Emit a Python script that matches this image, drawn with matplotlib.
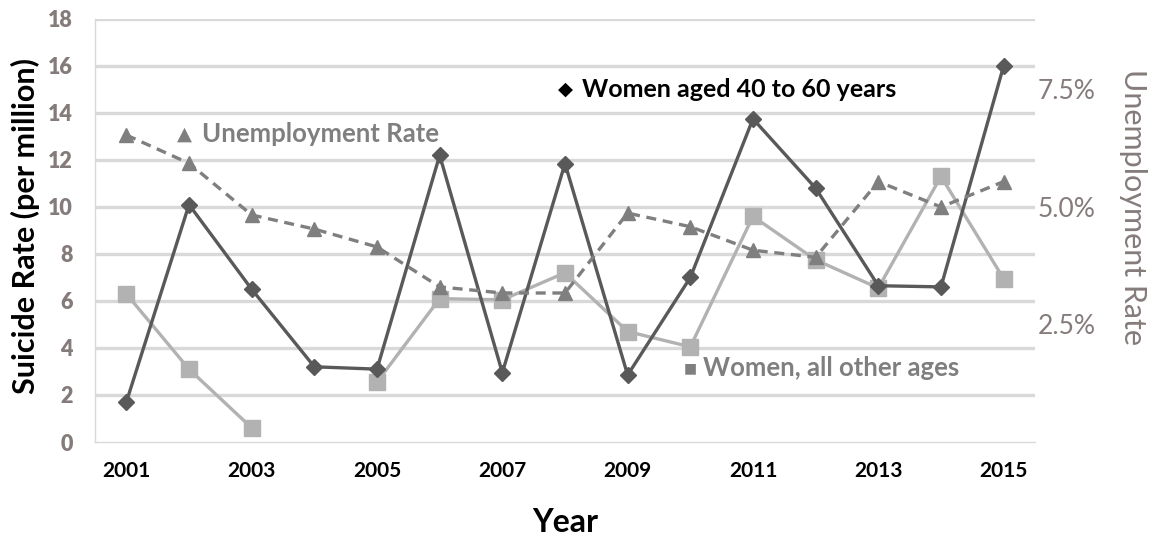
import matplotlib
matplotlib.use("Agg")
import matplotlib.pyplot as plt
from matplotlib.ticker import FixedLocator, FuncFormatter

plt.rcParams['font.family'] = ['Lato', 'DejaVu Sans']

years = [2001, 2002, 2003, 2004, 2005, 2006, 2007, 2008, 2009, 2010, 2011, 2012, 2013, 2014, 2015]
women_40_60 = [1.7, 10.1, 6.5, 3.2, 3.1, 12.2, 2.95, 11.85, 2.85, 7.0, 13.75, 10.8, 6.65, 6.6, 16.0]
women_other = [6.3, 3.1, 0.6, None, 2.55, 6.1, 6.05, 7.2, 4.7, 4.05, 9.6, 7.75, 6.55, 11.3, 6.95]
unemployment_pct = [6.53, 5.93, 4.83, 4.53, 4.15, 3.3, 3.17, 3.17, 4.87, 4.58, 4.08, 3.93, 5.54, 5.0, 5.54]
xtick_years = [2001, 2003, 2005, 2007, 2009, 2011, 2013, 2015]
left_ticks = [0, 2, 4, 6, 8, 10, 12, 14, 16, 18]
right_ticks = [2.5, 5.0, 7.5]

DARK = '#595959'
LIGHT = '#b2b2b2'
MID = '#7f7f7f'
TICKGRAY = '#857b7b'

fig = plt.figure(figsize=(11.56, 5.42), dpi=100)
ax = fig.add_axes([0.0822, 0.1845, 0.8131, 0.7805])
ax2 = ax.twinx()

ax.set_xlim(2000.5, 2015.5)
ax.set_ylim(0, 18)
ax2.set_ylim(0, 9)

for y in left_ticks[1:]:
    ax.axhline(y, color='#d9d9d9', lw=2.4, zorder=0)

# all-other-ages series has a gap at 2004
seg1 = [(x, v) for x, v in zip(years, women_other) if x <= 2003 and v is not None]
seg2 = [(x, v) for x, v in zip(years, women_other) if x >= 2005 and v is not None]
for seg in (seg1, seg2):
    ax.plot([s[0] for s in seg], [s[1] for s in seg], color=LIGHT, lw=2.4,
            marker='s', markersize=11, zorder=3)

ax.plot(years, women_40_60, color=DARK, lw=2.4, marker='D', markersize=8, zorder=4)

ax2.plot(years, unemployment_pct, color=MID, lw=2.4, ls=(0, (3, 2)),
         marker='^', markersize=10, zorder=3)

ax.set_xticks(xtick_years)
ax.set_xticklabels([str(y) for y in xtick_years], fontsize=15, fontweight='bold', color='black')
ax.set_yticks(left_ticks)
ax.set_yticklabels([str(t) for t in left_ticks], fontsize=15.5, fontweight='heavy', color=TICKGRAY)
ax.tick_params(axis='both', length=0)
ax.tick_params(axis='x', pad=14)
ax.tick_params(axis='y', pad=16)

ax2.yaxis.set_major_locator(FixedLocator(right_ticks))
ax2.yaxis.set_major_formatter(FuncFormatter(lambda v, p: f"{v:.1f}%"))
ax2.tick_params(axis='y', length=0, labelsize=19, labelcolor=TICKGRAY, pad=2)

for a in (ax, ax2):
    for s in ('top', 'right'):
        a.spines[s].set_visible(False)
ax2.spines['left'].set_visible(False)
ax2.spines['bottom'].set_visible(False)
ax.spines['left'].set_color('#d9d9d9')
ax.spines['bottom'].set_color('#d9d9d9')
ax.spines['left'].set_linewidth(1)
ax.spines['bottom'].set_linewidth(1)

ax.set_xlabel('Year', fontsize=23, fontweight='bold', va='center')
ax.xaxis.set_label_coords(0.5, -0.19)
ax.set_ylabel('Suicide Rate (per million)', fontsize=22, fontweight='bold', va='center')
ax.yaxis.set_label_coords(-0.0745, 0.51)
ax2.set_ylabel('Unemployment Rate', fontsize=22, color=TICKGRAY, rotation=270, va='center')
ax2.yaxis.set_label_coords(1.104, 0.556)

ax.text(2001.8, 13.1, '▲', fontsize=14, color=MID, va='center', ha='left')
ax.text(2002.2, 13.1, 'Unemployment Rate', fontsize=18.5, fontweight='bold',
        color=MID, va='center', ha='left')
ax.text(2007.88, 15.0, '◆', fontsize=14, color='black', va='center', ha='left')
ax.text(2008.27, 15.0, 'Women aged 40 to 60 years', fontsize=18, fontweight='bold',
        color='black', va='center', ha='left')
ax.text(2009.9, 3.15, '■', fontsize=10, color=MID, va='center', ha='left')
ax.text(2010.2, 3.15, 'Women, all other ages', fontsize=18.5, fontweight='bold',
        color=MID, va='center', ha='left')

fig.savefig('out.png', dpi=100)
